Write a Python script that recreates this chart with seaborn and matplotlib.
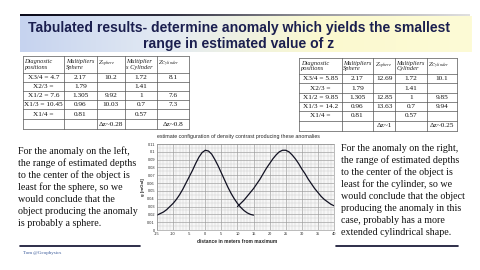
import numpy as np
import pandas as pd
import matplotlib
matplotlib.use("Agg")
import matplotlib.pyplot as plt
import seaborn as sns
from matplotlib.colors import LinearSegmentedColormap

# ---------------- data ----------------
left_x = [-15, -14, -13, -12, -11, -10, -9, -8, -7, -6, -5, -4, -3, -2, -1, 0,
          1, 2, 3, 4, 5, 6, 7, 8, 9, 10, 11, 12, 13, 14, 15]
left_g = [0.019, 0.021, 0.023, 0.026, 0.030, 0.034, 0.039, 0.045, 0.052, 0.060, 0.068,
          0.076, 0.085, 0.093, 0.099, 0.102, 0.101, 0.097, 0.090, 0.082, 0.073,
          0.064, 0.055, 0.047, 0.040, 0.034, 0.029, 0.025, 0.022, 0.020, 0.019]
right_x = [10, 11, 12, 13, 14, 15, 16, 17, 18, 19, 20, 21, 22, 23, 24, 25,
           26, 27, 28, 29, 30, 31, 32, 33, 34, 35, 36, 37, 38, 39, 40]
right_g = [0.030, 0.034, 0.038, 0.043, 0.048, 0.053, 0.059, 0.065, 0.072, 0.079, 0.085,
           0.091, 0.096, 0.100, 0.102, 0.102, 0.100, 0.096, 0.091, 0.085, 0.078,
           0.072, 0.065, 0.059, 0.053, 0.048, 0.043, 0.039, 0.036, 0.033, 0.031]
x_ticks = [-15, -10, -5, 0, 5, 10, 15, 20, 25, 30, 35, 40]
y_ticks = [0, 0.01, 0.02, 0.03, 0.04, 0.05, 0.06, 0.07, 0.08, 0.09, 0.1, 0.11]

header = ["Diagnostic\npositions", "Multipliers\nSphere", r"$Z_{sphere}$", "Multiplier\ns Cylinder", r"$Z_{Cylinder}$"]
left_rows = [
    ["X3/4 = 4.7", "2.17", "10.2", "1.72", "8.1"],
    ["X2/3 =", "1.79", "", "1.41", ""],
    ["X1/2 = 7.6", "1.305", "9.92", "1", "7.6"],
    ["X1/3 = 10.45", "0.96", "10.03", "0.7", "7.3"],
    ["X1/4 =", "0.81", "", "0.57", ""],
    ["", "", "Δz~0.28", "", "Δz~0.8"],
]
right_header = ["Diagnostic\npositions", "Multipliers\nSphere", r"$Z_{sphere}$", "Multipliers\nCylinder", r"$Z_{Cylinder}$"]
right_rows = [
    ["X3/4 = 5.85", "2.17", "12.69", "1.72", "10.1"],
    ["X2/3 =", "1.79", "", "1.41", ""],
    ["X1/2 = 9.85", "1.305", "12.85", "1", "9.85"],
    ["X1/3 = 14.2", "0.96", "13.63", "0.7", "9.94"],
    ["X1/4 =", "0.81", "", "0.57", ""],
    ["", "", "Δz~1", "", "Δz~0.25"],
]

title_lines = ["Tabulated results- determine anomaly which yields the smallest",
               "range in estimated value of z"]
left_text = ["For the anomaly on the left,", "the range of estimated depths",
             "to the center of the object is", "least for the sphere, so we",
             "would conclude that the", "object producing the anomaly",
             "is probably a sphere."]
right_text = ["For the anomaly on the right,", "the range of estimated depths",
              "to the center of the object is", "least for the cylinder, so we",
              "would conclude that the object", "producing the anomaly in this",
              "case, probably has a more", "extended cylindrical shape."]

# ---------------- figure ----------------
sns.set_theme(style="white")
plt.rcParams['font.family'] = ['Liberation Serif', 'DejaVu Serif']
plt.rcParams['mathtext.fontset'] = 'stix'

W, H = 480, 270
fig = plt.figure(figsize=(4.8, 2.7), dpi=100)
fig.patch.set_facecolor("white")
ov = fig.add_axes([0, 0, 1, 1])
ov.axis("off")

# title band gradient
cmap = LinearSegmentedColormap.from_list("band", ["#c6d3ef", "#e4ebf3", "#fbf9cf", "#fdfbd6"])
grad = np.linspace(0, 1, 256).reshape(1, -1)
ov.imshow(grad, cmap=cmap, extent=[20, 472, 52, 16], aspect="auto", zorder=0)
# top line
lc = LinearSegmentedColormap.from_list("ln", ["#0a0a1a", "#303040", "#9a9aa0", "#e0e0e0"])
ov.imshow(grad, cmap=lc, extent=[20, 470, 16, 14.3], aspect="auto", zorder=1)
ov.set_xlim(0, W)
ov.set_ylim(H, 0)

ov.text(239, 28, title_lines[0], ha="center", va="center", fontsize=10.1,
        fontweight="bold", color="#1b1f4f", family="Liberation Sans")
ov.text(239, 44, title_lines[1], ha="center", va="center", fontsize=10.1,
        fontweight="bold", color="#1b1f4f", family="Liberation Sans")


def draw_table(xs, ys, head, rows):
    ov.add_patch(plt.Rectangle((xs[0], ys[0]), xs[-1] - xs[0], ys[-1] - ys[0],
                               facecolor="white", edgecolor="none", zorder=2))
    for x in xs:
        ov.plot([x, x], [ys[0], ys[-1]], color="#555555", lw=0.5, zorder=3)
    for y in ys:
        ov.plot([xs[0], xs[-1]], [y, y], color="#555555", lw=0.5, zorder=3)
    for j, h in enumerate(head):
        ov.text(xs[j] + 1.5, (ys[0] + ys[1]) / 2, h, ha="left", va="center",
                fontsize=4.6, style="italic", color="#222222", zorder=4, linespacing=1.1)
    for i, r in enumerate(rows):
        yc = (ys[i + 1] + ys[i + 2]) / 2
        for j, v in enumerate(r):
            if v:
                ov.text((xs[j] + xs[j + 1]) / 2, yc, v, ha="center", va="center",
                        fontsize=5.2, color="#111111", zorder=4)


draw_table([22.7, 64.3, 96.7, 125, 156.7, 189],
           [56, 72.7, 82.3, 91, 100, 109.3, 119, 129], header, left_rows)
draw_table([299.3, 341.7, 373.3, 395, 426.7, 456.7],
           [58.3, 74, 83.3, 92.7, 101.7, 111, 120.7, 131], right_header, right_rows)

# paragraphs
for i, t in enumerate(left_text):
    ov.text(18, 151 + i * 12.1, t, ha="left", va="center", fontsize=7.2, color="#111111")
for i, t in enumerate(right_text):
    ov.text(341, 148.3 + i * 12.05, t, ha="left", va="center", fontsize=7.2, color="#111111")

# bottom lines and footer
ov.plot([20, 140], [246, 246], color="#0a0a2a", lw=1.2)
ov.plot([336, 458], [246, 246], color="#0a0a2a", lw=1.2)
ov.text(23, 253, "Tom @Geophysics", ha="left", va="center", fontsize=3.6, color="#3a5a9a")

# ---------------- chart ----------------
x0, x1, y0, y1 = 157, 334, 144, 230
ax = fig.add_axes([x0 / W, (H - y1) / H, (x1 - x0) / W, (y1 - y0) / H])
ax.set_facecolor("#f7f7f7")
df_l = pd.DataFrame({"x": left_x, "g": left_g})
df_r = pd.DataFrame({"x": right_x, "g": right_g})
sns.lineplot(data=df_l, x="x", y="g", ax=ax, color="#111122", lw=0.9, sort=False, estimator=None)
sns.lineplot(data=df_r, x="x", y="g", ax=ax, color="#111122", lw=0.9, sort=False, estimator=None)
ax.set_xlim(-15, 40)
ax.set_ylim(0, 0.11)
ax.set_xticks(x_ticks)
ax.set_yticks(y_ticks)
ax.set_xticklabels([str(v) for v in x_ticks], fontsize=2.8, family="Liberation Sans")
ax.set_yticklabels([("%g" % v) for v in y_ticks], fontsize=2.8, family="Liberation Sans")
ax.set_xticks(np.arange(-15, 41, 1), minor=True)
ax.set_yticks(np.arange(0, 0.111, 0.005), minor=True)
ax.grid(True, which="major", color="#9a9a9a", lw=0.45)
ax.grid(True, which="minor", color="#c8c8c8", lw=0.3)
ax.tick_params(axis="both", which="both", length=0, pad=1.5)
for s in ax.spines.values():
    s.set_color("#888888")
    s.set_linewidth(0.4)
ax.set_xlabel("distance in meters from maximum", fontsize=3.5, family="Liberation Sans",
              fontweight="bold", labelpad=3)
ax.xaxis.set_label_coords(0.45, -0.1)
ax.set_ylabel("g [mGal]", fontsize=3.2, family="Liberation Sans", fontweight="bold", labelpad=2)
ax.set_title("estimate configuration of density contrast producing these anomalies",
             fontsize=3.8, family="Liberation Sans", pad=4, loc="left")

fig.savefig("out.png", dpi=100, facecolor="white")
